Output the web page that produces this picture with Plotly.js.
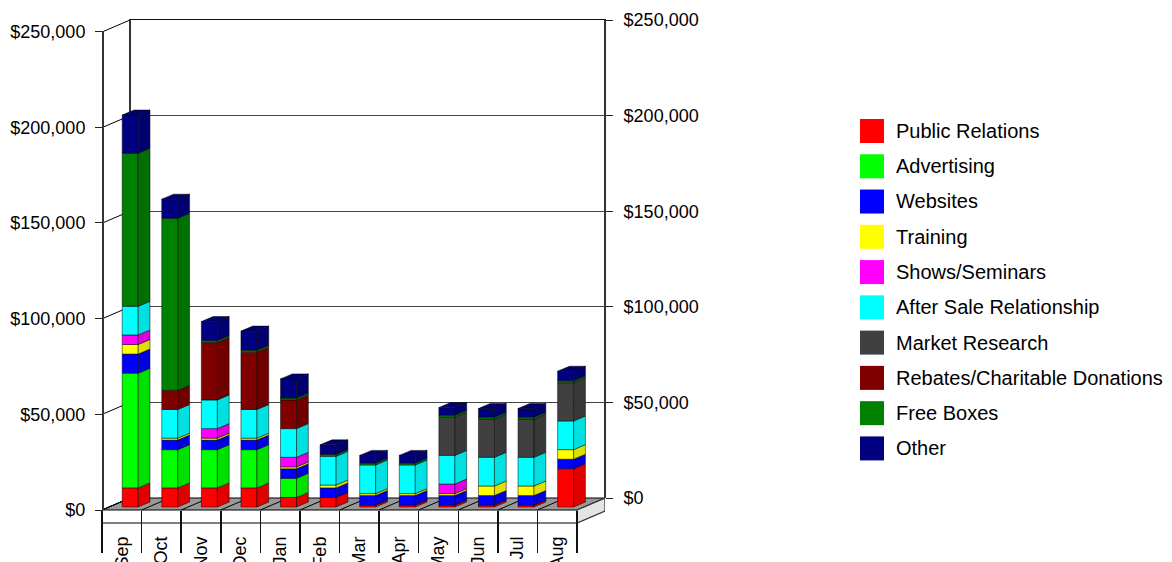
<!DOCTYPE html>
<html>
<head>
<meta charset="utf-8">
<script src="https://cdn.plot.ly/plotly-3.0.1.min.js"></script>
<style>html,body{margin:0;padding:0;background:#fff;overflow:hidden}#chart{width:1172px;height:562px}</style>
</head>
<body>
<div id="chart"></div>
<script>
// Monthly marketing spend, stacked per category, in US dollars.
const months = ['Sep','Oct','Nov','Dec','Jan','Feb','Mar','Apr','May','Jun','Jul','Aug'];
const seriesNames = ['Public Relations','Advertising','Websites','Training','Shows/Seminars',
  'After Sale Relationship','Market Research','Rebates/Charitable Donations','Free Boxes','Other'];
const publicRelations = [10000,10000,10000,10000,5000,5000,1000,1000,1000,1000,1000,20000];
const advertising     = [60000,20000,20000,20000,10000,0,0,0,0,0,0,0];
const websites        = [10000,5000,5000,5000,5000,5000,5000,5000,5000,5000,5000,5000];
const training        = [5000,1000,1000,1000,1000,1500,1000,1000,1000,5000,5000,5000];
const showsSeminars   = [5000,0,5000,0,5000,0,0,0,5000,0,0,0];
const afterSale       = [15000,15000,15000,15000,15000,15000,15000,15000,15000,15000,15000,15000];
const marketResearch  = [0,0,0,0,0,0,0,0,20000,20000,20000,20000];
const rebates         = [0,10000,30000,30000,15000,0,0,0,0,0,0,0];
const freeBoxes       = [80000,90000,1000,1000,1000,1000,1000,1000,1000,1000,1000,1000];
const other           = [20000,10000,10000,10000,10000,5000,4000,4000,4000,4500,4500,5000];
const seriesValues = [publicRelations,advertising,websites,training,showsSeminars,
  afterSale,marketResearch,rebates,freeBoxes,other];
const faceColors = ['#ff0000','#00ff00','#0000ff','#ffff00','#ff00ff','#00ffff','#404040','#800000','#008000','#000080'];
const sideColors = ['#e00000','#00e000','#0000e0','#e0e000','#e000e0','#00e0e0','#383838','#700000','#007000','#000070'];
const axisTicks = [0,50000,100000,150000,200000,250000];
const axisTickLabels = ['$0','$50,000','$100,000','$150,000','$200,000','$250,000'];

// Pixel layout of the box the pseudo-3D chart sits in.
const W = 1172, H = 562;
const left = 102, frontRight = 577, backRight = 605;
const frontZero = 510, backZero = 498, frontTop = 31.5, backTop = 20, tickBottom = 552;
const catPx = (frontRight - left) / months.length;
const dollarPx = (backZero - backTop) / 250000;
const depthX = (backRight - frontRight) / catPx;     // box depth, category units
const depthY = (frontZero - backZero) / dollarPx;    // box depth, dollars
const slabY = 13 / dollarPx;                         // floor slab thickness
const barShift = 8.4 / catPx, barWidth = 16 / catPx;
const barDepthX = 11.8 / catPx, barDepthY = 5 / dollarPx;
const barLift = 3 / dollarPx;
const edge = {color:'rgba(0,0,0,0.7)', width:0.7};

const fx = p => p / W, fy = p => 1 - p / H;
const sceneX = {domain:[fx(left),fx(backRight)], range:[-0.5,-0.5+(backRight-left)/catPx], visible:false, fixedrange:true};
const sceneY = {domain:[fy(tickBottom),fy(backTop)], range:[-(tickBottom-frontZero)/dollarPx,(frontZero-backTop)/dollarPx], visible:false, fixedrange:true};

const traces = [];

// Floor slab, month dividers and the wall connectors at each tick.
const xL = -0.5, xR = months.length - 0.5;
traces.push({type:'scatter',mode:'lines',xaxis:'x',yaxis:'y',fill:'toself',fillcolor:'#999999',
  x:[xL,xR,xR+depthX,xL+depthX,xL],y:[0,0,depthY,depthY,0],line:{color:'#000',width:1}});
traces.push({type:'scatter',mode:'lines',xaxis:'x',yaxis:'y',fill:'toself',fillcolor:'#e4e4e4',
  x:[xR,xR+depthX,xR+depthX,xR,xR],y:[0,depthY,depthY-slabY,-slabY,0],line:{color:'#333',width:1.2}});
const divX = [], divY = [];
months.forEach((m,i)=>{ divX.push(xL+i,xL+i+depthX,null); divY.push(0,depthY,null); });
axisTicks.forEach(v=>{ divX.push(xL,xL+depthX,null); divY.push(v,v+depthY,null); });
divX.push(xL,xR); divY.push(-slabY,-slabY);
traces.push({type:'scatter',mode:'lines',xaxis:'x',yaxis:'y',x:divX,y:divY,line:{color:'#000',width:1}});

// Back wall: this trace brings up the right-hand scale and its gridlines.
traces.push({type:'scatter',mode:'markers',xaxis:'x2',yaxis:'y2',x:[0],y:[0],marker:{opacity:0,size:1}});

// Month labels and their boundary ticks hang off this trace's category axis.
traces.push({type:'scatter',mode:'markers',xaxis:'x3',yaxis:'y3',x:months,
  y:months.map((m,i)=>seriesValues.reduce((s,a)=>s+a[i],0)),marker:{opacity:0,size:1}});

// Front faces are stacked bars; side and top faces follow from the same values.
const running = months.map(()=>0);
const topX = [], topY = [];
seriesValues.forEach((vals,s)=>{
  const xs = months.map((m,i)=>i+barShift);
  const bases = vals.map((v,i)=>running[i]+barLift);
  traces.push({type:'bar',name:seriesNames[s],xaxis:'x4',yaxis:'y4',x:xs,
    y:vals.map(v=>v>0?v:null),base:bases,width:barWidth,
    marker:{color:faceColors[s],line:edge}});
  const sx = [], sy = [];
  vals.forEach((v,i)=>{
    if(v<=0) return;
    const r = i+barShift+barWidth/2, b = bases[i], t = b+v;
    sx.push(r,r+barDepthX,r+barDepthX,r,r,null);
    sy.push(b,b+barDepthY,t+barDepthY,t,b,null);
    running[i]+=v;
  });
  traces.push({type:'scatter',mode:'lines',xaxis:'x4',yaxis:'y4',x:sx,y:sy,fill:'toself',
    fillcolor:sideColors[s],line:edge});
});
months.forEach((m,i)=>{
  const l = i+barShift-barWidth/2, r = l+barWidth, t = running[i]+barLift;
  topX.push(l,r,r+barDepthX,l+barDepthX,l,null);
  topY.push(t,t,t+barDepthY,t+barDepthY,t,null);
});
traces.push({type:'scatter',mode:'lines',xaxis:'x4',yaxis:'y4',x:topX,y:topY,fill:'toself',
  fillcolor:sideColors[9],line:edge});

// Key: one swatch and one label per category.
const keyRows = seriesNames.map((n,i)=>i);
traces.push({type:'scatter',mode:'markers',xaxis:'x5',yaxis:'y5',x:keyRows.map(()=>0),y:keyRows,
  marker:{symbol:'square',size:24,color:faceColors,line:{width:0}}});
traces.push({type:'scatter',mode:'text',xaxis:'x5',yaxis:'y5',x:keyRows.map(()=>1),y:keyRows.map(r=>r+0.055),
  text:seriesNames,textposition:'middle right',cliponaxis:false,
  textfont:{family:'Liberation Sans, Arial, sans-serif',size:20,color:'#000'}});

const tickFont = {family:'Liberation Sans, Arial, sans-serif',size:18,color:'#000'};
const layout = {
  width:W,height:H,margin:{l:0,r:0,t:0,b:0},paper_bgcolor:'#fff',plot_bgcolor:'rgba(0,0,0,0)',
  showlegend:false,barmode:'overlay',hovermode:false,
  xaxis:{...sceneX,anchor:'y'},yaxis:{...sceneY,anchor:'x'},
  // back wall with the right-hand scale and gridlines
  xaxis2:{domain:[fx(left+backRight-frontRight+1),fx(backRight-1)],range:[0,1],anchor:'y2',side:'top',
    showgrid:false,zeroline:false,showticklabels:false,ticks:'',showline:true,
    linecolor:'#111',linewidth:1.5,fixedrange:true},
  yaxis2:{domain:[fy(backZero),fy(backTop)],range:[0,250000],anchor:'x2',side:'right',
    tickmode:'array',tickvals:axisTicks,ticktext:axisTickLabels,tickfont:tickFont,
    ticks:'outside',ticklen:7,tickcolor:'#222',tickwidth:1,ticklabelstandoff:7,
    showgrid:true,gridcolor:'#444',gridwidth:1,zeroline:false,
    showline:true,mirror:true,linecolor:'#333',linewidth:2,fixedrange:true},
  // front plane with the left-hand scale and month labels
  xaxis3:{domain:[fx(left),fx(frontRight)],type:'category',categoryorder:'array',categoryarray:months,
    range:[-0.5,months.length-0.5],anchor:'y3',side:'bottom',tickson:'boundaries',
    ticks:'outside',ticklen:tickBottom-frontZero,tickcolor:'#111',tickwidth:1.5,
    tickangle:-90,tickfont:tickFont,ticklabelstandoff:22,
    showgrid:false,zeroline:false,showline:false,fixedrange:true},
  yaxis3:{domain:[fy(frontZero),fy(frontTop)],range:[0,250000],anchor:'free',position:fx(left+1),side:'left',
    tickmode:'array',tickvals:axisTicks,ticktext:axisTickLabels,tickfont:tickFont,
    ticks:'outside',ticklen:7,tickcolor:'#222',tickwidth:1,ticklabelstandoff:6,
    showgrid:false,zeroline:false,showline:true,linecolor:'#333',linewidth:2,fixedrange:true},
  xaxis4:{...sceneX,anchor:'y4'},yaxis4:{...sceneY,anchor:'x4'},
  xaxis5:{domain:[fx(860),1],range:[-0.5,12.5],visible:false,anchor:'y5',fixedrange:true},
  yaxis5:{domain:[fy(465),fy(115)],range:[(465-131)/35.27,(115-131)/35.27],visible:false,anchor:'x5',fixedrange:true}
};
Plotly.newPlot('chart',traces,layout,{displayModeBar:false,staticPlot:true});
</script>
</body>
</html>
